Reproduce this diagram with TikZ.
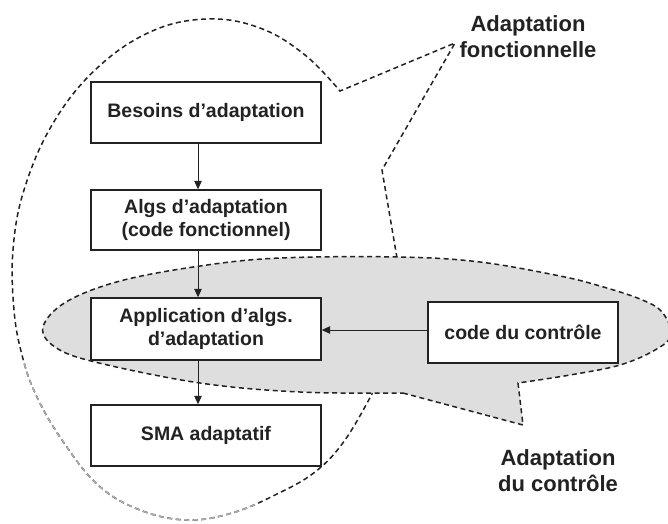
\documentclass[tikz,border=0pt]{standalone}
\usepackage{fontspec}
\setmainfont{Liberation Sans}
\usetikzlibrary{arrows.meta}
\definecolor{ctrlgray}{HTML}{DEDEDE}
\definecolor{ink}{HTML}{222222}
\begin{document}
\begin{tikzpicture}[x=1pt,y=-1pt,
  stepbox/.style={draw=ink, line width=1.4pt, fill=white, inner sep=0pt,
    minimum width=230pt, minimum height=61pt, align=center, text=ink,
    font=\fontsize{19.5}{23}\selectfont\bfseries},
  flow/.style={line width=1pt, draw=ink, -{Triangle[length=8.5pt,width=7.5pt]}},
  zone/.style={line width=1.5pt, dash pattern=on 5pt off 3.5pt, draw=ink},
  title/.style={align=center, text=ink, inner sep=0pt,
    font=\fontsize{22}{26}\selectfont\bfseries}
]
\useasboundingbox (0,0) rectangle (668,523);
\fill[white] (0,0) rectangle (668,523);

% outline of the functional adaptation zone
\draw[zone] (397,258) -- (382,170) -- (455,43) -- (340,91)
  -- plot[smooth, tension=0.65] coordinates {(340,91) (305,55) (260,28) (207,19)
     (150,32) (95,70) (52,125) (24,190) (13,250) (14,310) (22,355) (36,395)
     (62,440) (98,485) (140,510) (187,520) (232,513) (275,495) (315,472)
     (345,440) (373,392)};
% faded lower-left stretch of the same outline
\begin{scope}
  \clip (0,362) rectangle (256,523);
  \draw[zone, draw=gray!65] (397,258) -- (382,170) -- (455,43) -- (340,91)
    -- plot[smooth, tension=0.65] coordinates {(340,91) (305,55) (260,28) (207,19)
       (150,32) (95,70) (52,125) (24,190) (13,250) (14,310) (22,355) (36,395)
       (62,440) (98,485) (140,510) (187,520) (232,513) (275,495) (315,472)
       (345,440) (373,392)};
\end{scope}

% control adaptation zone (shaded callout)
\path[zone, fill=ctrlgray] (403,393) -- (523,425) -- (518,383)
  -- plot[smooth, tension=0.6] coordinates {(518,383) (570,375) (620,365)
     (655,350) (671,335) (662,312) (640,299) (600,286) (560,276) (480,262)
     (400,257) (280,258) (200,266) (120,281) (66,302) (43,327) (55,347)
     (95,362) (200,383) (300,392) (403,393)} -- cycle;

% process boxes
\node[stepbox] (besoins) at (206,112.5) {Besoins d'adaptation};
\node[stepbox, minimum height=60pt] (algs) at (206,220) {Algs d'adaptation\\(code fonctionnel)};
\node[stepbox, minimum height=62pt] (appli) at (206,329) {Application d'algs.\\d'adaptation};
\node[stepbox] (sma) at (206,435.5) {SMA adaptatif};
\node[stepbox, minimum width=190pt] (code) at (523,332.5) {code du contrôle};

% zone labels
\node[title] (tfonc) at (528,37) {Adaptation\\fonctionnelle};
\node[title] (tctrl) at (558,471) {Adaptation\\du contrôle};

% connectors
\coordinate (ax) at (198,0);
\draw[flow] (besoins.south -| ax) -- (algs.north -| ax);
\draw[flow] (algs.south -| ax) -- (appli.north -| ax);
\draw[flow] (appli.south -| ax) -- (sma.north -| ax);
\draw[flow] (code.west |- 0,330) -- (appli.east |- 0,330);
\end{tikzpicture}
\end{document}
